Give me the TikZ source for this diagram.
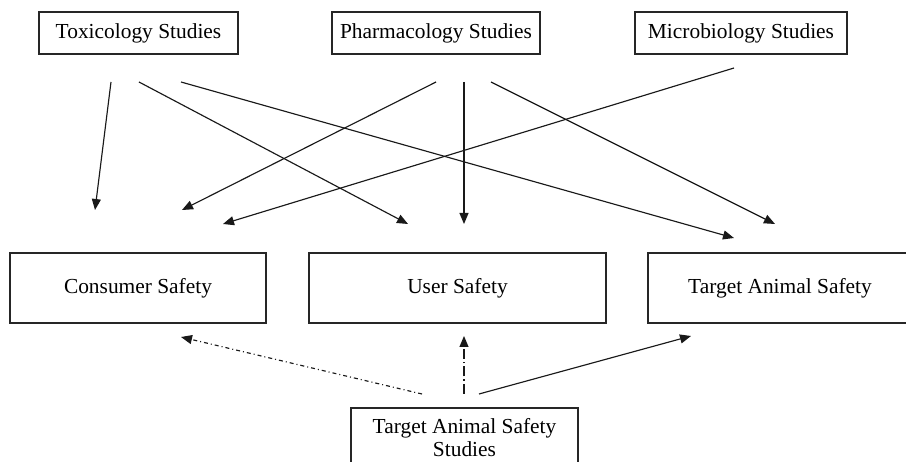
\documentclass[tikz,border=0pt]{standalone}
\usepackage{fontspec}
\setmainfont{Liberation Serif}
\usetikzlibrary{arrows.meta}
\begin{document}
\begin{tikzpicture}[x=1pt,y=-1pt,
  box/.style={draw=black!85, line width=1.2pt, inner sep=0pt, align=center,
    font=\fontsize{21.4}{23}\selectfont},
  link/.style={line width=1.15pt, black!90,
    -{Triangle[length=11pt,width=9pt]}},
  dashdotfine/.style={dash pattern=on 4pt off 3pt on 1pt off 3pt},
  dashdotlong/.style={dash pattern=on 10pt off 3pt on 1.5pt off 3pt}]
\useasboundingbox (0,0) rectangle (906,462);

% study boxes along the top
\node[box, minimum width=199pt, minimum height=42pt] (tox)   at (138.5,33) {Toxicology Studies};
\node[box, minimum width=208pt, minimum height=42pt] (pharm) at (436,33)   {Pharmacology Studies};
\node[box, minimum width=212pt, minimum height=42pt] (micro) at (741,33)   {Microbiology Studies};

% safety areas
\node[box, minimum width=256pt, minimum height=70pt] (cons)   at (138,288)   {Consumer Safety};
\node[box, minimum width=297pt, minimum height=70pt] (user)   at (457.5,288) {User Safety};
\node[box, minimum width=264pt, minimum height=70pt] (target) at (780,288)   {Target Animal Safety};

% study box at the bottom
\node[box, minimum width=227pt, minimum height=60pt] (tass) at (464.5,438) {Target Animal Safety\\Studies};

% free ends of the connectors
\coordinate (t1) at (111,82);  \coordinate (t1e) at (95,210);
\coordinate (t2) at (139,82);  \coordinate (t2e) at (408,224);
\coordinate (t3) at (181,82);  \coordinate (t3e) at (734,238);
\coordinate (p1) at (436,82);  \coordinate (p1e) at (182,210);
\coordinate (p2) at (464,82);  \coordinate (p2e) at (464,224);
\coordinate (p3) at (491,82);  \coordinate (p3e) at (775,224);
\coordinate (m1) at (734,68);  \coordinate (m1e) at (223,224);
\coordinate (s1) at (422,394); \coordinate (s1e) at (181,337);
\coordinate (s2) at (464,394); \coordinate (s2e) at (464,336);
\coordinate (s3) at (479,394); \coordinate (s3e) at (691,336);

% studies feeding the safety areas
\draw[link] (t1) -- (t1e);
\draw[link] (t2) -- (t2e);
\draw[link] (t3) -- (t3e);
\draw[link] (p1) -- (p1e);
\draw[link] (p2) -- (p2e);
\draw[link] (p3) -- (p3e);
\draw[link] (m1) -- (m1e);

% target animal safety studies
\draw[link, dashdotfine] (s1) -- (s1e);
\draw[link, dashdotlong] (s2) -- (s2e);
\draw[link] (s3) -- (s3e);
\end{tikzpicture}
\end{document}
